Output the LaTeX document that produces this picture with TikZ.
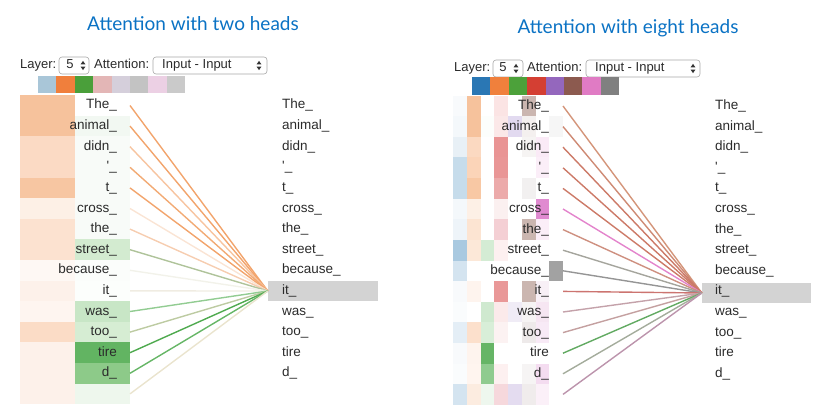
\documentclass[tikz,border=0pt]{standalone}
\usepackage{fontspec}
\setmainfont{Liberation Sans}[Ligatures=TeXOff]
\newfontfamily\titlefont{Lato}
\definecolor{txtc}{HTML}{2B2B2B}
\definecolor{ttlblue}{HTML}{0A72C4}
\definecolor{selgray}{HTML}{A8A8A8}
\definecolor{hlgray}{HTML}{D3D3D3}
\definecolor{arrc}{HTML}{333333}
\begin{document}
\begin{tikzpicture}[x=1pt,y=-1pt,
  tok/.style={font=\fontsize{13.5}{16}\selectfont, text=txtc, inner sep=0pt, text height=10pt, text depth=3pt},
  ctl/.style={font=\fontsize{13}{15}\selectfont, text=txtc, inner sep=0pt, text height=9.5pt, text depth=2.8pt},
  ttl/.style={font=\titlefont\fontsize{19}{22}\selectfont, text=ttlblue, inner sep=0pt},
  selbox/.style={draw=selgray, fill=white, rounded corners=3pt, line width=0.6pt, inner sep=0pt},
  hlbox/.style={fill=hlgray, inner sep=0pt, minimum height=20pt},
  link/.style={line width=1.4pt},
  updown/.pic={\fill[arrc] (-2.4,-1.2) -- (2.4,-1.2) -- (0,-4.6) -- cycle;
               \fill[arrc] (-2.4,1.2) -- (2.4,1.2) -- (0,4.6) -- cycle;}
]
\useasboundingbox (0,0) rectangle (826,406);

% titles
\node[ttl] (t1) at (193,24) {Attention with two heads};
\node[ttl] (t2) at (628,28) {Attention with eight heads};

% controls left
\node[ctl, anchor=west] (ly1) at (20,65.5) {Layer:};
\node[selbox, minimum width=30pt, minimum height=17pt] (s1) at (74,65.5) {};
\node[ctl] (s1v) at (70,65.5) {5};
\pic at (83,65.5) {updown};
\node[ctl, anchor=west] (at1) at (94,65.5) {Attention:};
\node[selbox, minimum width=114pt, minimum height=17pt] (s2) at (210,65.5) {};
\node[ctl, anchor=west] (s2v) at (162,65.5) {Input - Input};
\pic at (259,65.5) {updown};

% controls right
\node[ctl, anchor=west] (ly2) at (454,68.5) {Layer:};
\node[selbox, minimum width=30pt, minimum height=17pt] (s3) at (508,68.5) {};
\node[ctl] (s3v) at (503,68.5) {5};
\pic at (516,68.5) {updown};
\node[ctl, anchor=west] (at2) at (527,68.5) {Attention:};
\node[selbox, minimum width=114pt, minimum height=17pt] (s4) at (643,68.5) {};
\node[ctl, anchor=west] (s4v) at (595,68.5) {Input - Input};
\pic at (693,68.5) {updown};

% swatches
\foreach \c [count=\i from 0] in {A9C6D8,F07F3C,4A9F3A,E3B6B6,D5CFDB,C3C3C3,ECD0E4,CACACA}{
  \definecolor{sw}{HTML}{\c}
  \fill[sw] ({38+18.375*\i},76) rectangle ({38+18.375*(\i+1)},93);
}
\foreach \c [count=\i from 0] in {2A77B4,F0803C,4CA13A,D43F33,9467BD,8C5A4F,E07BC4,808080}{
  \definecolor{sw}{HTML}{\c}
  \fill[sw] ({472+18.375*\i},77) rectangle ({472+18.375*(\i+1)},95);
}

% highlights
\node[hlbox, minimum width=110pt] (Lhl) at (323,291) {};
\node[hlbox, minimum width=109pt] (Rhl) at (756.5,293) {};

% left panel cells and links
\foreach \oc/\gc/\lcl [count=\k from 0] in {
  F6C29C/FFFFFF/F2A46C, F6C29C/F2F8F2/F2A46C, FBDAC4/F8FBF8/F7C4A0,
  FBDAC4/F8FBF8/F2AA74, F7C6A2/F8FBF8/F2A46C, FDF0E6/F8FBF8/FAE4D4,
  FCE2D0/F8FBF8/F6CDB0, FCE2D0/D3EBD0/AFC39A, FEF8F4/FBFDFB/F2F2EA,
  FDF1EA/FCFEFC/F0ECE2, FEF5F0/C8E6C6/92CC92, FBDCC6/D6EDD3/BDCBA2,
  FDF1EA/62B462/4FAA4F, FDF1EA/8DCA89/66B666, FDF1EA/EEF7ED/EAE4CE}{
  \pgfmathsetmacro\yy{105.5+20.6*\k}
  \definecolor{co}{HTML}{\oc}\definecolor{cg}{HTML}{\gc}\definecolor{cl}{HTML}{\lcl}
  \fill[co] (20,\yy-10.3) rectangle (75,\yy+10.3);
  \fill[cg] (75,\yy-10.3) rectangle (130,\yy+10.3);
  \coordinate (Ls\k) at (130,\yy);
  \draw[link, cl] (Ls\k) -- (Lhl.west);
}

% right panel cells
\foreach \row [count=\k from 0] in {
  {F8FAFC,F6C29C,FFFFFF,FBE4E4,FFFFFF,CBB6B0,FFFFFF,FFFFFF},
  {F4F8FB,F6C29C,FCFEFC,FBE8E8,E2DAF0,F4F0EF,FFFFFF,F6F6F6},
  {E8F0F6,FBD9C1,FFFFFF,E99494,FFFFFF,F6F4F3,FAEAF6,FFFFFF},
  {C6DCEB,FBD4B8,FFFFFF,E99696,FFFFFF,FFFFFF,FBEEF8,FFFFFF},
  {C6DCEB,F8C8A4,FFFFFF,ECAAAA,FFFFFF,F2F0F0,FFFFFF,FFFFFF},
  {F4F8FB,FDF0E6,FFFFFF,FBF0F0,FFFFFF,FFFFFF,E08AD0,FFFFFF},
  {EEF4F9,FCE4D2,FFFFFF,F4CFD4,FFFFFF,CBB6B0,FBEEF8,FFFFFF},
  {A9C9E0,FCE8D8,D4ECD4,FDF0F0,FFFFFF,FFFFFF,FFFFFF,FFFFFF},
  {D4E4F0,FFFFFF,FFFFFF,FFFFFF,FFFFFF,FFFFFF,FFFFFF,A2A2A2},
  {F8FAFC,FEF4EE,FFFFFF,E99898,FFFFFF,CBB6B0,F8F0F6,FFFFFF},
  {FAFCFD,FFFFFF,CFE9CF,FBEAEA,F0ECF6,F6F4F4,F6E6F2,FFFFFF},
  {E4EEF6,FCE0CC,D8EED8,FCF2F2,FFFFFF,EEEAEA,F8EAF6,FFFFFF},
  {F8FAFC,FEF4EE,66B566,FFFFFF,FFFFFF,FFFFFF,FFFFFF,FFFFFF},
  {FAFCFD,FFF5EF,8FCB8F,FDF0F0,FFFFFF,F6F4F4,F4DCF0,FFFFFF},
  {D4E4F0,FCECE0,EEF7EE,F6D8DC,E4DCF0,F0ECEC,FBF0F8,FFFFFF}}{
  \pgfmathsetmacro\yy{106+20.6*\k}
  \foreach \c [count=\j from 0] in \row {
    \definecolor{cc}{HTML}{\c}
    \fill[cc] ({453+13.75*\j},\yy-10.3) rectangle ({453+13.75*(\j+1)},\yy+10.3);
  }
}

% right panel links
\foreach \lcl [count=\k from 0] in {D4957A,CE8A74,CC7A68,CC7A68,CC7A68,E384CC,CE9080,
  A5A59D,959595,CC7470,C4A2AA,C4A0A0,62AA62,A4AC9C,BC94AC}{
  \pgfmathsetmacro\yy{106+20.6*\k}
  \definecolor{cl}{HTML}{\lcl}
  \coordinate (Rs\k) at (563,\yy);
  \draw[link, cl] (Rs\k) -- (Rhl.west);
}

% tokens
\foreach \tk [count=\k from 0] in {The\_, animal\_, didn\_, \textquotesingle\_, t\_, cross\_,
  the\_, street\_, because\_, it\_, was\_, too\_, tire, d\_}{
  \pgfmathsetmacro\yy{105.5+20.6*\k}
  \pgfmathsetmacro\yr{106+20.6*\k}
  \node[tok, anchor=east] (L\k) at (117,\yy) {\tk};
  \node[tok, anchor=west] (Lr\k) at (282,\yy) {\tk};
  \node[tok, anchor=east] (R\k) at (549,\yr) {\tk};
  \node[tok, anchor=west] (Rr\k) at (715,\yr) {\tk};
}
\end{tikzpicture}
\end{document}
